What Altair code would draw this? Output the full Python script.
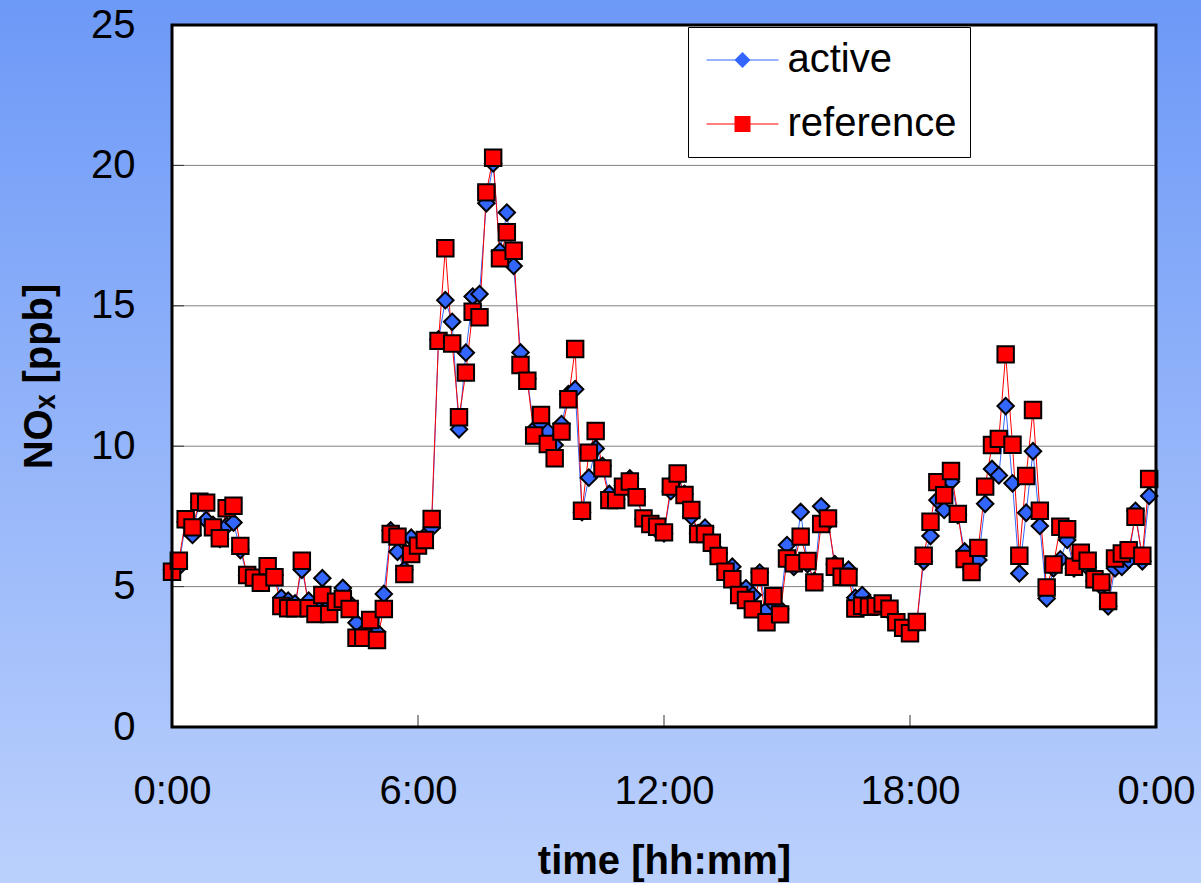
import altair as alt
import pandas as pd

# ---------------- data ----------------
series_names = ["active", "reference"]
minutes_step = 10  # one sample every 10 minutes, 0:00 .. 23:50

active = [
    5.6, 5.7, 7.3, 6.84, 8.0, 7.37, 7.2, 6.7, 7.16, 7.28,
    6.3, 5.4, 5.3, 5.2, 5.6, 5.4, 4.6, 4.5, 4.4, 5.6,
    4.5, 4.3, 5.3, 4.3, 4.5, 4.95, 4.4, 3.71, 3.2, 3.7,
    3.38, 4.74, 7.0, 6.24, 5.6, 6.74, 6.5, 6.8, 7.09, 13.8,
    15.2, 14.43, 10.6, 13.33, 15.33, 15.42, 18.65, 20.07, 16.93, 18.32,
    16.42, 13.34, 12.4, 10.6, 10.8, 10.52, 10.04, 10.79, 11.85, 12.03,
    7.65, 8.88, 9.92, 9.3, 8.3, 8.1, 8.6, 8.85, 8.2, 7.4,
    7.2, 7.0, 6.9, 8.4, 8.9, 8.3, 7.5, 6.9, 7.1, 6.6,
    6.2, 5.6, 5.71, 4.9, 4.94, 4.7, 5.5, 4.17, 4.4, 4.2,
    6.48, 5.7, 7.66, 5.8, 5.2, 7.86, 7.3, 5.8, 5.5, 5.6,
    4.6, 4.7, 4.4, 4.3, 4.3, 4.1, 3.8, 3.6, 3.4, 3.7,
    5.9, 6.8, 8.08, 7.73, 8.74, 7.55, 6.25, 5.6, 5.95, 7.95,
    9.19, 8.96, 11.43, 8.68, 5.47, 7.63, 9.82, 7.16, 4.58, 5.65,
    5.97, 6.66, 5.65, 6.0, 5.7, 5.2, 5.0, 4.3, 5.65, 5.7,
    5.95, 7.7, 5.9, 8.23,
]

reference = [
    5.53, 5.92, 7.4, 7.11, 8.02, 7.99, 7.11, 6.72, 7.79, 7.88,
    6.45, 5.41, 5.32, 5.14, 5.73, 5.33, 4.31, 4.23, 4.23, 5.92,
    4.23, 4.02, 4.7, 4.02, 4.46, 4.56, 4.2, 3.18, 3.18, 3.81,
    3.1, 4.2, 6.87, 6.78, 5.45, 6.16, 6.46, 6.66, 7.41, 13.75,
    17.05, 13.66, 11.03, 12.62, 14.79, 14.59, 19.04, 20.27, 16.69, 17.62,
    16.96, 12.89, 12.33, 10.38, 11.11, 10.08, 9.57, 10.52, 11.67, 13.46,
    7.7, 9.77, 10.54, 9.21, 8.08, 8.08, 8.56, 8.74, 8.18, 7.43,
    7.23, 7.13, 6.93, 8.56, 9.03, 8.26, 7.73, 6.87, 6.87, 6.56,
    6.09, 5.53, 5.26, 4.7, 4.52, 4.19, 5.35, 3.73, 4.66, 4.01,
    6.0, 5.83, 6.78, 5.91, 5.15, 7.23, 7.43, 5.71, 5.35, 5.34,
    4.22, 4.32, 4.28, 4.3, 4.4, 4.21, 3.73, 3.53, 3.34, 3.74,
    6.1, 7.31, 8.72, 8.25, 9.12, 7.59, 5.98, 5.52, 6.38, 8.56,
    10.04, 10.26, 13.27, 10.05, 6.1, 8.94, 11.29, 7.7, 4.97, 5.79,
    7.13, 7.04, 5.71, 6.21, 5.92, 5.26, 5.15, 4.49, 6.0, 6.18,
    6.3, 7.49, 6.1, 8.83,
]

y_tick_values = [0, 5, 10, 15, 20, 25]
grid_values = [5, 10, 15, 20]
x_tick_values = [0, 6, 12, 18, 24]
inner_x_ticks = [6, 12, 18]

# ---------------- table ----------------
hours = [i * minutes_step / 60 for i in range(len(active))]
rows = []
for name, vals in zip(series_names, [active, reference]):
    for h, v in zip(hours, vals):
        rows.append({"hour": h, "nox": v, "series": name, "name": name})
df = pd.DataFrame(rows)

# ---------------- style ----------------
W, H = 984, 702
LEFT, TOP = 172, 25
TOTAL_W, TOTAL_H = 1201, 883
FONT = "Liberation Sans, Arial, DejaVu Sans, sans-serif"
BLUE = "#3366ff"
RED = "#ff0000"

x_scale = alt.Scale(domain=[0, 24], nice=False, zero=False)
y_scale = alt.Scale(domain=[0, 25], nice=False)

x_axis = alt.Axis(
    values=x_tick_values,
    labelExpr="floor(datum.value % 24) + ':00'",
    title="time [hh:mm]",
    titleFont=FONT, titleFontSize=40, titleFontWeight="bold", titleColor="black",
    titleBaseline="alphabetic", titleY=146,
    labelFont=FONT, labelFontSize=40, labelColor="black", labelPadding=44,
    labelFlush=False, labelOverlap=False,
    ticks=False, tickSize=0, domain=False, grid=False, zindex=1,
)
y_axis = alt.Axis(
    values=y_tick_values,
    title="NOₓ [ppb]",
    titleFont=FONT, titleFontSize=40, titleFontWeight="bold", titleColor="black",
    titleBaseline="alphabetic", titleX=-121,
    labelFont=FONT, labelFontSize=40, labelColor="black", labelPadding=37,
    labelOverlap=False,
    ticks=False, tickSize=0, domain=False, grid=False, zindex=1,
)

X = lambda f: alt.X(f, scale=x_scale, axis=x_axis)
Y = lambda f: alt.Y(f, scale=y_scale, axis=y_axis)

one = pd.DataFrame({"a": [0]})

background = alt.Chart(one).mark_rect(
    color=alt.Gradient(
        gradient="linear",
        stops=[alt.GradientStop(color="#6d99f7", offset=0),
               alt.GradientStop(color="#bbd0fc", offset=1)],
        x1=0, x2=0, y1=0, y2=1,
    )
).encode(
    x=alt.value(-LEFT), x2=alt.value(TOTAL_W - LEFT),
    y=alt.value(-TOP), y2=alt.value(TOTAL_H - TOP),
)

plot_bg = alt.Chart(one).mark_rect(color="white").encode(
    x=alt.value(0), x2=alt.value("width"), y=alt.value(0), y2=alt.value("height")
)

grid = alt.Chart(pd.DataFrame({"g": grid_values})).mark_rule(
    color="#808080", strokeWidth=1
).encode(y=Y("g:Q"), x=alt.value(0), x2=alt.value("width"))

y_inner_ticks = alt.Chart(pd.DataFrame({"g": grid_values})).mark_rule(
    color="#333333", strokeWidth=1
).encode(y=Y("g:Q"), x=alt.value(0), x2=alt.value(12))

x_inner = alt.Chart(pd.DataFrame({"t": inner_x_ticks})).mark_rule(
    color="#333333", strokeWidth=1
).encode(x=X("t:Q"), y=alt.value(H - 12), y2=alt.value(H))

legend_common = dict(
    orient="none", legendX=516, legendY=2, title=None,
    labelFont=FONT, labelFontSize=40, labelColor="black", labelLimit=400,
    padding=13, rowPadding=24, symbolSize=256, symbolOffset=21.5, labelOffset=25,
)

lines = alt.Chart(df).mark_line(strokeWidth=1).encode(
    x=X("hour:Q"),
    y=Y("nox:Q"),
    color=alt.Color(
        "series:N",
        scale=alt.Scale(range=[BLUE, RED]),
        legend=alt.Legend(
            symbolType="M-4.5,0L4.5,0", symbolStrokeWidth=1,
            fillColor="white", strokeColor="black", zindex=1,
            **legend_common,
        ),
    ),
)

legend_points = alt.Legend(
    symbolStrokeWidth=2, symbolStrokeColor="black",
    labelExpr="' '", zindex=2,
    **legend_common,
)

points = alt.Chart(df).mark_point(
    filled=True, size=270, stroke="black", strokeWidth=2, opacity=1
).encode(
    x=X("hour:Q"),
    y=Y("nox:Q"),
    fill=alt.Fill("name:N", scale=alt.Scale(range=[BLUE, RED]), legend=legend_points),
    shape=alt.Shape("name:N", scale=alt.Scale(range=["diamond", "square"]), legend=legend_points),
)

frame = alt.Chart(one).mark_rect(filled=False, stroke="black", strokeWidth=3).encode(
    x=alt.value(0), x2=alt.value("width"), y=alt.value(0), y2=alt.value("height")
)

chart = alt.layer(
    background, plot_bg, grid, y_inner_ticks, x_inner, lines, points, frame
).properties(
    width=W, height=H, padding=0
).configure_view(strokeWidth=0).configure(font=FONT)

chart.save("out.html", embed_options={"renderer": "svg", "actions": False})
